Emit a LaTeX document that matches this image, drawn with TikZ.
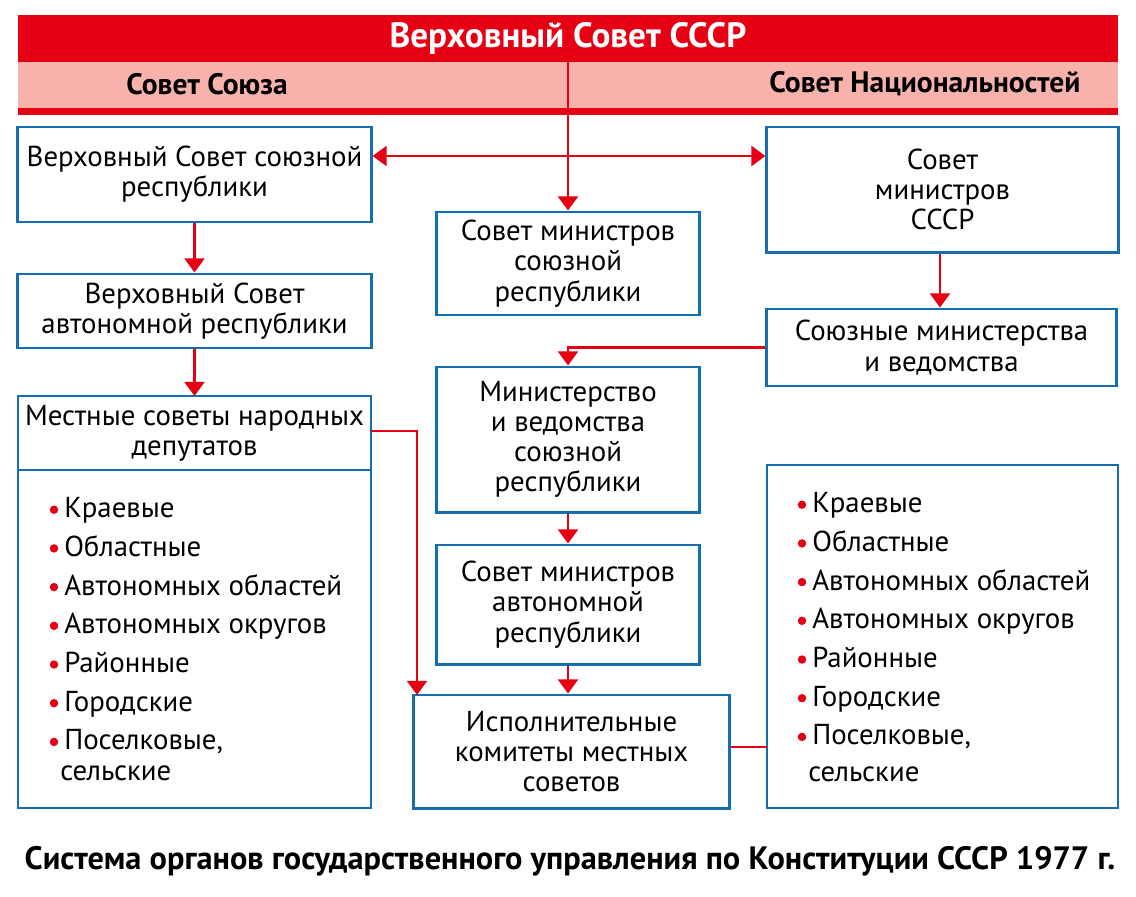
\documentclass[tikz,border=0pt]{standalone}
\usepackage{fontspec}
\setmainfont{PT Sans}
\usetikzlibrary{arrows.meta, positioning}
\definecolor{sovred}{RGB}{230,0,20}
\definecolor{sovpink}{RGB}{248,178,172}
\definecolor{sovblue}{RGB}{20,110,175}
\tikzset{
  box/.style={draw=sovblue, line width=2.1pt, fill=white, align=center, inner sep=0pt, font=\fontsize{20.5}{21.5}\selectfont},
  link/.style={draw=sovred, line width=2.1pt},
  arr/.style={link, -{Triangle[width=14pt, length=10pt]}},
  item/.style={anchor=base west, inner sep=0pt, font=\fontsize{20.5}{21.5}\selectfont},
  dot/.style={circle, fill=sovred, inner sep=0pt, minimum size=6pt}
}
\begin{document}
\begin{tikzpicture}[x=0.025cm, y=-0.025cm]
\useasboundingbox (0,0) rectangle (1136,896);

% top band
\fill[sovred] (18,15) rectangle (1118,115);
\fill[sovpink] (18,62) rectangle (1118,108);
\node[text=white, font=\bfseries\fontsize{25}{28}\selectfont] (vs) at (568,38) {Верховный Совет СССР};
\node[font=\bfseries\fontsize{21}{24}\selectfont] (ss) at (207,84) {Совет Союза};
\node[font=\bfseries\fontsize{21}{24}\selectfont] (sn) at (925,84) {Совет Национальностей};
\coordinate (top) at (568,62);
\coordinate (fork) at (568,156);

% left column
\node[box, minimum width=8.825cm, minimum height=2.375cm] (vsr) at (194.5,174.5) {Верховный Совет союзной\\республики};
\node[box, minimum width=8.825cm, minimum height=1.85cm] (vsa) at (194.5,311) {Верховный Совет\\автономной республики};
\draw[draw=sovblue, line width=2.1pt] (18,396) rectangle (371,808);
\draw[draw=sovblue, line width=2.1pt] (18,470) -- (371,470);
\node[align=center, font=\fontsize{20.5}{21.5}\selectfont] (mso) at (194.5,433) {Местные советы народных\\депутатов};
\coordinate (msr) at (371,431);

% middle column
\node[box, minimum width=6.55cm, minimum height=2.575cm] (smsr) at (568,263.5) {Совет министров\\союзной\\республики};
\node[box, minimum width=6.55cm, minimum height=3.625cm] (mvsr) at (568,439.5) {Министерство\\и ведомства\\союзной\\республики};
\node[box, minimum width=6.55cm, minimum height=2.975cm] (smar) at (568,604.5) {Совет министров\\автономной\\республики};
\node[box, minimum width=7.875cm, minimum height=2.825cm] (ikms) at (571.5,751.5) {Исполнительные\\комитеты местных\\советов};

% right column
\node[box, minimum width=8.775cm, minimum height=3.125cm] (smsssr) at (942.5,189.5) {Совет\\министров\\СССР};
\node[box, minimum width=8.725cm, minimum height=1.925cm] (sm) at (941.5,347.5) {Союзные министерства\\и ведомства};
\draw[draw=sovblue, line width=2.1pt] (767,465) rectangle (1118,808);

% lists
\foreach \t [count=\i] in {Краевые, Областные, Автономных областей, Автономных округов, Районные, Городские, {Поселковые,}}{
  \node[dot] at (54,{471+38.7*\i}) {};
  \node[item] at (64,{479+38.7*\i}) {\t};
  \node[dot] at (802,{466+38.7*\i}) {};
  \node[item] at (812,{474+38.7*\i}) {\t};
}
\node[item] at (60,780) {сельские};
\node[item] at (808,781) {сельские};

% connectors
\draw[arr] (top) -- (smsr.north);
\draw[arr] (fork) -- (vsr.east |- fork);
\draw[arr] (fork) -- (smsssr.west |- fork);
\draw[arr] (vsr.south) -- (vsa.north);
\draw[arr] (vsa.south) -- (194.5,396);
\draw[arr] (smsssr.south -| 940,0) -- (sm.north -| 940,0);
\draw[arr] (sm.west) -| (mvsr.north);
\draw[arr] (mvsr.south) -- (smar.north);
\draw[arr] (smar.south) -- (ikms.north -| smar.south);
\draw[arr] (msr) -| (417,695);
\draw[link] (ikms.east |- 0,747) -- (767,747);

% caption
\node[font=\bfseries\fontsize{23}{26}\selectfont] (cap) at (570,861) {Система органов государственного управления по Конституции СССР 1977 г.};
\end{tikzpicture}
\end{document}
